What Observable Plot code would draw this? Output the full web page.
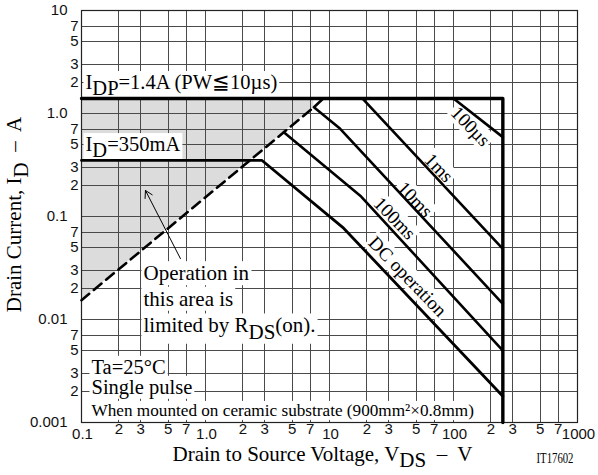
<!DOCTYPE html>
<html><head><meta charset="utf-8">
<script src="https://cdn.jsdelivr.net/npm/d3@7"></script>
<script src="https://cdn.jsdelivr.net/npm/@observablehq/plot@0.6"></script>
<style>body{margin:0;background:#fff;}</style>
</head><body><div id="chart"></div>
<script>
// ---- grid & tick labels ----
const xGrid = [0.1,0.2,0.3,0.5,0.7,1,2,3,5,7,10,20,30,50,70,100,200,300,500,700,1000];
const yGrid = [0.001,0.002,0.003,0.005,0.007,0.01,0.02,0.03,0.05,0.07,0.1,0.2,0.3,0.5,0.7,1,2,3,5,7,10];
const xDecadeTicks = [0.1,1,10,100,1000];
const xDecadeLabels = ["0.1","1.0","10","100","1000"];
const xMinorTicks = [0.2,0.3,0.5,0.7,2,3,5,7,20,30,50,70,200,300,500,700];
const xMinorLabels = ["2","3","5","7","2","3","5","7","2","3","5","7","2","3","5","7"];
const yDecadeTicks = [0.001,0.01,0.1,1,10];
const yDecadeLabels = ["0.001","0.01","0.1","1.0","10"];
const yMinorTicks = [0.002,0.003,0.005,0.007,0.02,0.03,0.05,0.07,0.2,0.3,0.5,0.7,2,3,5,7];
const yMinorLabels = ["2","3","5","7","2","3","5","7","2","3","5","7","2","3","5","7"];

// ---- SOA curves (VDS in V, ID in A) ----
const limitV = [0.1, 250, 250];      const limitI = [1.4, 1.4, 0.001];
const rdsV = [0.1, 7.49];            const rdsI = [0.0154, 1.15];
const dcV = [0.1, 2.86, 13, 250];    const dcI = [0.35, 0.35, 0.077, 0.0018];
const ms100V = [4.28, 18, 250];      const ms100I = [0.658, 0.156, 0.005];
const ms10V = [8.9, 7.49, 12.2, 250];const ms10I = [1.4, 1.15, 0.71, 0.0142];
const ms1V = [18.4, 250];            const ms1I = [1.4, 0.0485];
const us100V = [100, 250];           const us100I = [1.4, 0.59];

// ---- labels ----
const curveLabels = ["100µs","1ms","10ms","100ms","DC operation"];
const curveLabelV = [137, 76, 48.8, 33.5, 42.5];
const curveLabelI = [0.748, 0.296, 0.146, 0.0957, 0.0261];
const noteTexts = ["I_{DP}=1.4A (PW≦10µs)", "I_{D}=350mA"];
const noteV = [0.1077, 0.1077];
const noteI = [2.0, 0.5];
const opTexts = ["Operation in", "this area is", "limited by R_{DS}(on)."];
const opV = [0.316, 0.316, 0.316];
const opI = [0.028, 0.0158, 0.0087];
const condTexts = ["Ta=25°C", "Single pulse"];
const condV = [0.1204, 0.1204];
const condI = [0.00344, 0.0022];
const mountText = "When mounted on ceramic substrate (900mm²×0.8mm)";
const mountV = 0.1204, mountI = 0.00131;
const arrowFrom = [0.628, 0.039], arrowTo = [0.328, 0.179];

const pts = (xs, ys) => xs.map((x, i) => ({x, y: ys[i]}));
const shade = [{v: rdsV[0], lo: rdsI[0], hi: limitI[0]}, {v: rdsV[1], lo: rdsI[1], hi: limitI[0]}];

const serif = "Liberation Serif, DejaVu Serif, Times New Roman, serif";
const sans = "Liberation Sans, Arial, sans-serif";
const KO = "#010101";   // marker fill for texts that get a white box
const CODE = "#020202";

const svg = Plot.plot({
  width: 598, height: 475,
  marginLeft: 81, marginRight: 21, marginTop: 10, marginBottom: 53,
  x: {type: "log", domain: [0.1, 1000], axis: null},
  y: {type: "log", domain: [0.001, 10], axis: null},
  style: {fontFamily: serif, background: "white", color: "black"},
  marks: [
    Plot.areaY(shade, {x: "v", y1: "lo", y2: "hi", fill: "#dcdcdc"}),
    Plot.ruleX(xGrid, {x: d => d, stroke: "#4a4a4a", strokeWidth: 1, shapeRendering: "crispEdges"}),
    Plot.ruleY(yGrid, {y: d => d, stroke: "#4a4a4a", strokeWidth: 1, shapeRendering: "crispEdges"}),
    Plot.frame({stroke: "#222", strokeWidth: 1.2}),
    // tick labels
    Plot.text(xMinorTicks, {x: d => d, text: (d, i) => xMinorLabels[i], frameAnchor: "bottom", textAnchor: "middle", dy: 11, fontFamily: sans, fontSize: 15, fill: "#111"}),
    Plot.text(xDecadeTicks, {x: d => d, text: (d, i) => xDecadeLabels[i], frameAnchor: "bottom", textAnchor: "middle", dx: 1, dy: 16, fontFamily: sans, fontSize: 15, fill: "#111"}),
    Plot.text(yMinorTicks, {y: d => d, text: (d, i) => yMinorLabels[i], frameAnchor: "left", textAnchor: "end", dx: -3, fontFamily: sans, fontSize: 15, fill: "#111"}),
    Plot.text(yDecadeTicks, {y: d => d, text: (d, i) => yDecadeLabels[i], frameAnchor: "left", textAnchor: "end", dx: -14, fontFamily: sans, fontSize: 15, fill: "#111"}),
    // axis titles
    Plot.text(["Drain to Source Voltage, V_{DS}  –  V"], {frameAnchor: "bottom", textAnchor: "middle", dx: -7, dy: 38, fontSize: 21}),
    Plot.text(["Drain Current, I_{D}  –  A"], {frameAnchor: "left", textAnchor: "middle", rotate: -90, dx: -67, dy: -2, fontSize: 21}),
    Plot.text(["IT17602"], {frameAnchor: "bottom-right", textAnchor: "end", dx: -4, dy: 40, fontSize: 14, fill: CODE}),
    // annotations with white boxes
    Plot.text(noteTexts, {x: (d, i) => noteV[i], y: (d, i) => noteI[i], text: d => d, textAnchor: "start", fontSize: 20.5, fill: KO}),
    Plot.text(opTexts, {x: (d, i) => opV[i], y: (d, i) => opI[i], text: d => d, textAnchor: "start", fontSize: 21, fill: KO}),
    Plot.text(condTexts, {x: (d, i) => condV[i], y: (d, i) => condI[i], text: d => d, textAnchor: "start", fontSize: 20.5, fill: KO}),
    Plot.text([mountText], {x: mountV, y: mountI, text: d => d, textAnchor: "start", fontSize: 17.2, fill: KO}),
    Plot.text(curveLabels, {x: (d, i) => curveLabelV[i], y: (d, i) => curveLabelI[i], text: d => d, rotate: 46, fontSize: 19, fill: KO}),
    // curves
    Plot.line(pts(rdsV, rdsI), {x: "x", y: "y", stroke: "black", strokeWidth: 2.6, strokeDasharray: "10,6"}),
    Plot.line(pts(dcV, dcI), {x: "x", y: "y", stroke: "black", strokeWidth: 2.8}),
    Plot.line(pts(ms100V, ms100I), {x: "x", y: "y", stroke: "black", strokeWidth: 2.6}),
    Plot.line(pts(ms10V, ms10I), {x: "x", y: "y", stroke: "black", strokeWidth: 2.6}),
    Plot.line(pts(ms1V, ms1I), {x: "x", y: "y", stroke: "black", strokeWidth: 2.6}),
    Plot.line(pts(us100V, us100I), {x: "x", y: "y", stroke: "black", strokeWidth: 2.6}),
    Plot.line(pts(limitV, limitI), {x: "x", y: "y", stroke: "black", strokeWidth: 3.4}),
    Plot.arrow([{x1: arrowFrom[0], y1: arrowFrom[1], x2: arrowTo[0], y2: arrowTo[1]}], {x1: "x1", y1: "y1", x2: "x2", y2: "y2", stroke: "black", strokeWidth: 1, headLength: 12})
  ]
});
document.getElementById("chart").appendChild(svg);

const NS = "http://www.w3.org/2000/svg";
// subscripts / superscripts
svg.querySelectorAll("text").forEach(el => {
  if (el.children.length) return;
  const s = el.textContent;
  if (!/[_^]\{/.test(s)) return;
  const parts = s.split(/([_^]\{[^}]*\})/);
  el.textContent = "";
  let shift = 0;
  for (const p of parts) {
    if (!p) continue;
    let t = p, target = 0;
    if (p.startsWith("_{")) { t = p.slice(2, -1); target = 0.3; }
    else if (p.startsWith("^{")) { t = p.slice(2, -1); target = -0.35; }
    const ts = document.createElementNS(NS, "tspan");
    const d = target - shift;
    if (d) ts.setAttribute("dy", d + "em");
    ts.textContent = t;
    el.appendChild(ts);
    shift = target;
  }
});
const markedTexts = (color) => [...svg.querySelectorAll("text")].filter(t => {
  const f = (t.getAttribute("fill") || t.parentNode.getAttribute("fill") || "").toLowerCase();
  return f === color;
});
// white knockout boxes
markedTexts(KO).forEach(t => {
  const b = t.getBBox();
  const r = document.createElementNS(NS, "rect");
  r.setAttribute("x", b.x - 2);
  r.setAttribute("y", b.y);
  r.setAttribute("width", b.width + 4);
  r.setAttribute("height", b.height);
  r.setAttribute("fill", "white");
  r.setAttribute("stroke", "none");
  const tr = t.getAttribute("transform");
  if (tr) r.setAttribute("transform", tr);
  t.parentNode.insertBefore(r, t);
  t.setAttribute("fill", "black");
});
markedTexts(CODE).forEach(t => {
  t.setAttribute("textLength", 37);
  t.setAttribute("lengthAdjust", "spacingAndGlyphs");
});
</script>
</body></html>
